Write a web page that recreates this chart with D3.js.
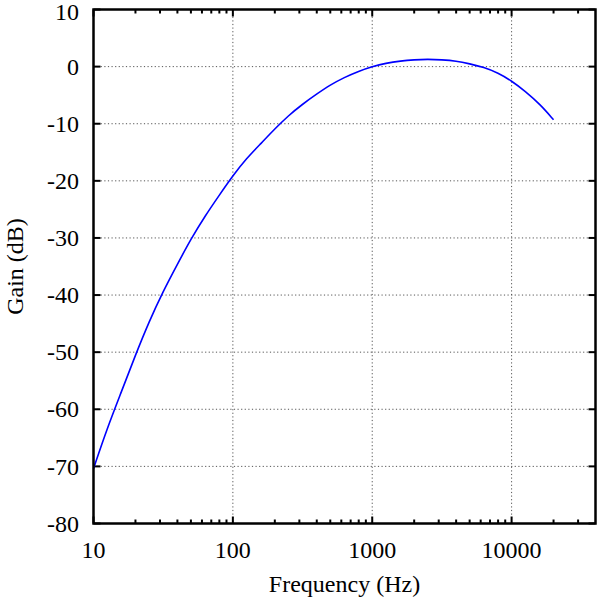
<!DOCTYPE html>
<html><head><meta charset="utf-8">
<script src="https://cdn.jsdelivr.net/npm/d3@7"></script>
<style>body{margin:0;background:#fff}svg{display:block}</style>
</head><body>
<svg id="c" width="600" height="600"></svg>
<script>
const frequencies = [10,12.5,16,20,25,31.5,40,50,63,80,100,125,160,200,250,315,400,500,630,800,1000,1250,1600,2000,2500,3150,4000,5000,6300,8000,10000,12500,16000,20000];
const gains = [-70.4,-63.4,-56.7,-50.5,-44.7,-39.4,-34.6,-30.2,-26.2,-22.5,-19.1,-16.1,-13.4,-10.9,-8.6,-6.6,-4.8,-3.2,-1.9,-0.8,0,0.6,1.0,1.2,1.3,1.2,1.0,0.5,-0.1,-1.1,-2.5,-4.3,-6.6,-9.3];
const xMajorTicks = [10,100,1000,10000];
const xMinorTicks = [20,30,40,50,60,70,80,90,200,300,400,500,600,700,800,900,2000,3000,4000,5000,6000,7000,8000,9000,20000,30000];
const yTicks = [10,0,-10,-20,-30,-40,-50,-60,-70,-80];
const xDomain = [10,40000];
const yDomain = [-80,10];

const L=93.5,R=595.5,T=9.5,B=523.5;
const FONT="'Liberation Serif','Times New Roman',Times,serif";
const svg=d3.select("#c").attr("font-family",FONT);
const x=d3.scaleLog().domain(xDomain).range([L,R]);
const y=d3.scaleLinear().domain(yDomain).range([B,T]);

// grid
const g=svg.append("g");
xMajorTicks.filter(v=>v>xDomain[0]).forEach(v=>{
  g.append("line").attr("x1",x(v)).attr("x2",x(v)).attr("y1",T).attr("y2",B)
   .attr("stroke","#555").attr("stroke-width",1).attr("stroke-dasharray","1.2,2.4");
});
yTicks.filter(v=>v>yDomain[0]&&v<yDomain[1]).forEach(v=>{
  g.append("line").attr("x1",L).attr("x2",R).attr("y1",y(v)).attr("y2",y(v))
   .attr("stroke","#555").attr("stroke-width",1).attr("stroke-dasharray","1.2,2.4");
});

// ticks (mirrored, inward)
const tk=svg.append("g").attr("stroke","#000").attr("stroke-width",2);
xMajorTicks.forEach(v=>{
  tk.append("line").attr("x1",x(v)).attr("x2",x(v)).attr("y1",B).attr("y2",B-7);
  tk.append("line").attr("x1",x(v)).attr("x2",x(v)).attr("y1",T).attr("y2",T+7);
});
xMinorTicks.forEach(v=>{
  tk.append("line").attr("x1",x(v)).attr("x2",x(v)).attr("y1",B).attr("y2",B-4);
  tk.append("line").attr("x1",x(v)).attr("x2",x(v)).attr("y1",T).attr("y2",T+4);
});
yTicks.forEach(v=>{
  tk.append("line").attr("x1",L).attr("x2",L+7).attr("y1",y(v)).attr("y2",y(v));
  tk.append("line").attr("x1",R).attr("x2",R-7).attr("y1",y(v)).attr("y2",y(v));
});

// curve
const line=d3.line().x((d,i)=>x(frequencies[i])).y(d=>y(d)).curve(d3.curveBasis);
svg.append("path").datum(gains).attr("d",line).attr("fill","none")
  .attr("stroke","#0000ff").attr("stroke-width",1.6);

// border
svg.append("rect").attr("x",L).attr("y",T).attr("width",R-L).attr("height",B-T)
  .attr("fill","none").attr("stroke","#000").attr("stroke-width",2.5);

// labels
const fs=24;
const txt=svg.append("g").attr("fill","#000").attr("font-size",fs);
xMajorTicks.forEach(v=>{
  txt.append("text").attr("x",x(v)).attr("y",557.5).attr("text-anchor","middle")
    .text(d3.format("d")(v));
});
yTicks.forEach(v=>{
  const yy=Math.max(y(v),12);
  txt.append("text").attr("x",79).attr("y",yy).attr("dy","0.34em").attr("text-anchor","end")
    .text(v);
});
txt.append("text").attr("x",(L+R)/2).attr("y",592).attr("text-anchor","middle")
  .text("Frequency (Hz)");
txt.append("text").attr("transform",`translate(22.5,${(T+B)/2}) rotate(-90)`).attr("text-anchor","middle")
  .text("Gain (dB)");
</script>
</body></html>
